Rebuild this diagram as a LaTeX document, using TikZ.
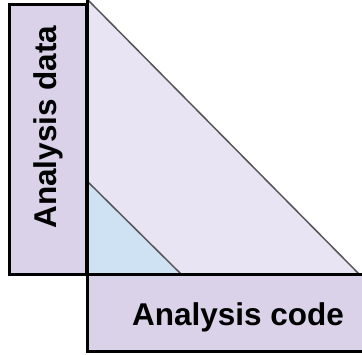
\documentclass[tikz,border=0pt]{standalone}
\usepackage{fontspec}
\setmainfont{Liberation Sans}
\usepackage{tikz}
\usetikzlibrary{positioning}
\definecolor{boxfill}{HTML}{D9D2E9}
\definecolor{bigfill}{HTML}{E8E4F3}
\definecolor{smallfill}{HTML}{CFE2F3}
\definecolor{edgegray}{HTML}{555555}

\begin{document}
\begin{tikzpicture}[
			x=1pt,y=1pt,
			frame/.style={draw=black,line width=3pt,fill=boxfill},
			wedge/.style={draw=edgegray,line width=1.5pt,line join=round},
			caption/.style={font=\bfseries\fontsize{31.5}{38}\selectfont,inner sep=0pt}
		]
		\useasboundingbox (0,0) rectangle (362,354);
		% triangles
		\draw[wedge,fill=bigfill] (88,354) -- (88,79) -- (360,79) -- cycle;
		\draw[wedge,fill=smallfill] (88,172) -- (88,79) -- (182,79) -- cycle;
		% the two boxes
		\draw[frame] (9.5,349) rectangle (86.5,79);
		\draw[frame] (87,79) rectangle (366,3);
		\draw[line width=3pt] (87,354) -- (87,79);
		\node[caption,rotate=90] (datalabel) at (48,227) {Analysis data};
		\node[caption] (codelabel) at (238,37) {Analysis code};
	\end{tikzpicture}
\end{document}
